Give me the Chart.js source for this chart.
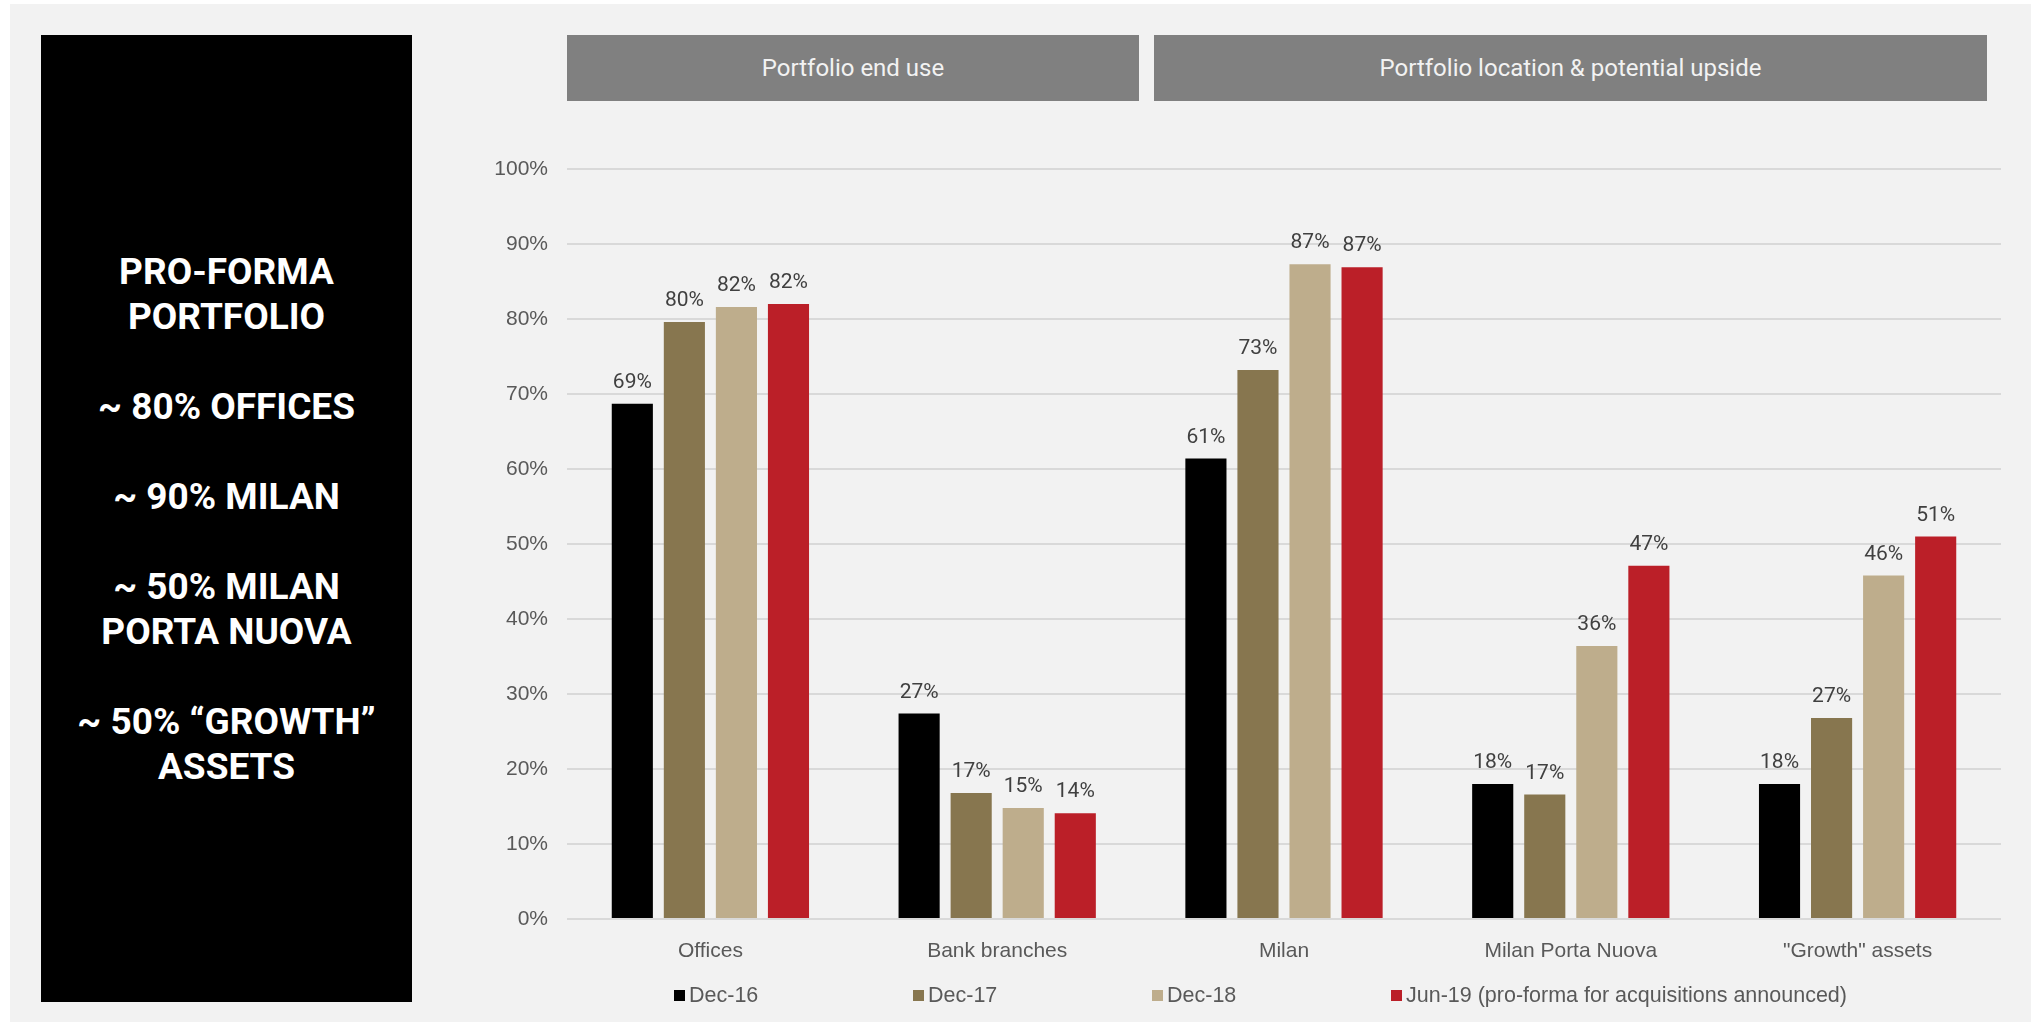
<!DOCTYPE html>
<html>
<head>
<meta charset="utf-8">
<script src="https://cdn.jsdelivr.net/npm/chart.js@4.4.1/dist/chart.umd.min.js"></script>
<style>
    html, body { margin: 0; padding: 0; background: #ffffff; }
    #page { position: absolute; left: 10px; top: 4px; width: 2021px; height: 1018px; background: #f2f2f2; }
    #sideBox {
        position: absolute; left: 41px; top: 35px; width: 371px; height: 967px;
        background: #000000; color: #ffffff;
        display: flex; align-items: center; justify-content: center; text-align: center;
        font-family: Roboto, sans-serif; font-weight: 700; font-size: 37px; line-height: 45px;
    }
    .header {
        position: absolute; top: 35px; height: 66px; background: #808080; color: #f2f2f2;
        display: flex; align-items: center; justify-content: center;
        font-family: Roboto, sans-serif; font-size: 24px;
    }
    #chart { position: absolute; left: 0; top: 0; }
    #legend { position: absolute; left: 674px; top: 983px; display: flex; font-family: 'Liberation Sans', Arial, sans-serif; font-size: 21.5px; color: #595959; }
    #legend .item { width: 239px; flex-shrink: 0; display: flex; align-items: center; white-space: nowrap; }
    #legend .item:last-child { width: auto; }
    #legend .box { width: 11px; height: 11px; flex-shrink: 0; margin-right: 4px; }
</style>
</head>
<body>
<div id="page"></div>
<div id="sideBox">
    <div>PRO-FORMA<br>PORTFOLIO<br><br>~ 80% OFFICES<br><br>~ 90% MILAN<br><br>~ 50% MILAN<br>PORTA NUOVA<br><br>~ 50% “GROWTH”<br>ASSETS</div>
</div>
<div class="header" style="left:567px;width:572px;">Portfolio end use</div>
<div class="header" style="left:1154px;width:833px;">Portfolio location &amp; potential upside</div>
<canvas id="chart" width="2031" height="1022"></canvas>
<div id="legend"></div>

<script>
const categories = ['Offices', 'Bank branches', 'Milan', 'Milan Porta Nuova', '"Growth" assets'];
const seriesNames = ['Dec-16', 'Dec-17', 'Dec-18', 'Jun-19 (pro-forma for acquisitions announced)'];
const dec16 = [68.7, 27.4, 61.4, 18.0, 18.0];
const dec17 = [79.6, 16.8, 73.2, 16.6, 26.8];
const dec18 = [81.6, 14.8, 87.3, 36.4, 45.8];
const jun19 = [82.0, 14.1, 86.9, 47.1, 51.0];
const seriesColors = ['#000000', '#87764f', '#bead8c', '#bb1f28'];
const yTicks = [0, 10, 20, 30, 40, 50, 60, 70, 80, 90, 100];

const seriesValues = [dec16, dec17, dec18, jun19];

// legend (html, fixed slots like the original)
const legendEl = document.getElementById('legend');
seriesNames.forEach((name, i) => {
    const item = document.createElement('div');
    item.className = 'item';
    item.innerHTML = '<span class="box" style="background:' + seriesColors[i] + '"></span>' + name;
    legendEl.appendChild(item);
});

// value labels above each bar
const barLabels = {
    id: 'barLabels',
    afterDatasetsDraw(chart) {
        const ctx = chart.ctx;
        ctx.save();
        ctx.font = '21px Roboto, sans-serif';
        ctx.fillStyle = '#404040';
        ctx.textAlign = 'center';
        ctx.textBaseline = 'alphabetic';
        chart.data.datasets.forEach((ds, i) => {
            chart.getDatasetMeta(i).data.forEach((bar, j) => {
                ctx.fillText(Math.round(ds.data[j]) + '%', bar.x, bar.y - 16);
            });
        });
        ctx.restore();
    }
};

new Chart(document.getElementById('chart').getContext('2d'), {
    type: 'bar',
    data: {
        labels: categories,
        datasets: seriesValues.map((vals, i) => ({
            label: seriesNames[i],
            data: vals,
            backgroundColor: seriesColors[i],
            borderWidth: 0,
            categoryPercentage: 0.726,
            barPercentage: 0.79
        }))
    },
    options: {
        responsive: false,
        animation: false,
        layout: { padding: { left: 487, right: 30, top: 169, bottom: 53 } },
        plugins: {
            legend: { display: false },
            tooltip: { enabled: false }
        },
        scales: {
            y: {
                min: 0,
                max: 100,
                afterFit(scale) { scale.width = 80; },
                afterBuildTicks(scale) { scale.ticks = yTicks.map(v => ({ value: v })); },
                grid: { color: '#d9d9d9', lineWidth: 2, drawTicks: false },
                border: { display: false },
                ticks: {
                    padding: 19,
                    color: '#595959',
                    font: { family: "'Liberation Sans', Arial, sans-serif", size: 21 },
                    callback: v => v + '%'
                }
            },
            x: {
                afterFit(scale) { scale.height = 50; },
                grid: { display: false },
                border: { display: false },
                ticks: {
                    padding: 12,
                    color: '#595959',
                    maxRotation: 0,
                    font: { family: "'Liberation Sans', Arial, sans-serif", size: 21 }
                }
            }
        }
    },
    plugins: [barLabels]
});
</script>
</body>
</html>
